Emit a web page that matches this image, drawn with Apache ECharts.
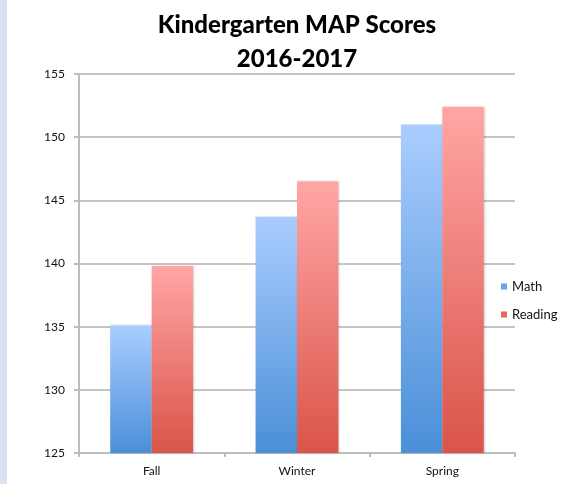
<!DOCTYPE html>
<html>
<head>
<meta charset="utf-8">
<script src="https://cdn.jsdelivr.net/npm/echarts@6/dist/echarts.min.js"></script>
<style>
  html, body { margin: 0; padding: 0; background: #fff; }
  .page { width: 569px; height: 484px; position: relative; }
  .strip { position: absolute; left: 0; top: 0; width: 7px; height: 484px; background: #dae2f1; }
  #chart { position: absolute; left: 0; top: 0; width: 569px; height: 484px; }
</style>
</head>
<body>
<div class="page">
  <div id="chart"></div>
  <div class="strip"></div>
</div>
<script>
// seasons on the x axis
const seasons = ["Fall", "Winter", "Spring"];
// scores
const mathScores = [135.1, 143.7, 151.0];
const readingScores = [139.8, 146.5, 152.4];

function grad(top, bottom) {
  return new echarts.graphic.LinearGradient(0, 0, 0, 1, [
    { offset: 0, color: top },
    { offset: 1, color: bottom }
  ]);
}

const chart = echarts.init(document.getElementById("chart"));
chart.setOption({
  animation: false,
  textStyle: { fontFamily: "Lato, 'Open Sans', sans-serif" },
  title: {
    text: "Kindergarten MAP Scores\n2016-2017",
    left: 292,
    textAlign: "center",
    top: 3,
    textStyle: {
      fontSize: 24,
      fontWeight: 900,
      color: "#000",
      lineHeight: 34,
      fontFamily: "Lato, 'Open Sans', sans-serif"
    }
  },
  legend: {
    orient: "vertical",
    left: 496,
    top: 275,
    itemWidth: 6,
    itemHeight: 6,
    itemGap: 15,
    icon: "rect",
    textStyle: { fontSize: 13, color: "#111" },
    data: [
      { name: "Math", itemStyle: { color: "#6ba4e6" } },
      { name: "Reading", itemStyle: { color: "#e9655e" } }
    ]
  },
  grid: { left: 79, right: 54, top: 74, bottom: 31 },
  xAxis: {
    type: "category",
    data: seasons,
    axisLine: { lineStyle: { color: "#bdbdbd", width: 2 } },
    axisTick: { show: true, length: 4, lineStyle: { color: "#bdbdbd", width: 2 } },
    axisLabel: { fontSize: 12, color: "#111", margin: 12 }
  },
  yAxis: {
    type: "value",
    min: 125,
    max: 155,
    interval: 5,
    axisLine: { show: true, lineStyle: { color: "#bdbdbd", width: 2 } },
    axisTick: { show: true, length: 5, lineStyle: { color: "#bdbdbd", width: 2 } },
    splitLine: { lineStyle: { color: "#c4c4c4", width: 2 } },
    axisLabel: { fontSize: 12, color: "#111", margin: 14 }
  },
  series: [
    {
      name: "Math",
      type: "bar",
      data: mathScores,
      barGap: "0%",
      barCategoryGap: "43%",
      itemStyle: {
        color: grad("#aacdfe", "#4a8fd8"),
        shadowColor: "rgba(0,0,0,0.18)",
        shadowBlur: 2,
        shadowOffsetX: 1
      }
    },
    {
      name: "Reading",
      type: "bar",
      data: readingScores,
      barGap: "0%",
      barCategoryGap: "43%",
      itemStyle: {
        color: grad("#ffa6a5", "#da5449"),
        shadowColor: "rgba(0,0,0,0.18)",
        shadowBlur: 2,
        shadowOffsetX: 1
      }
    }
  ]
});
</script>
</body>
</html>
